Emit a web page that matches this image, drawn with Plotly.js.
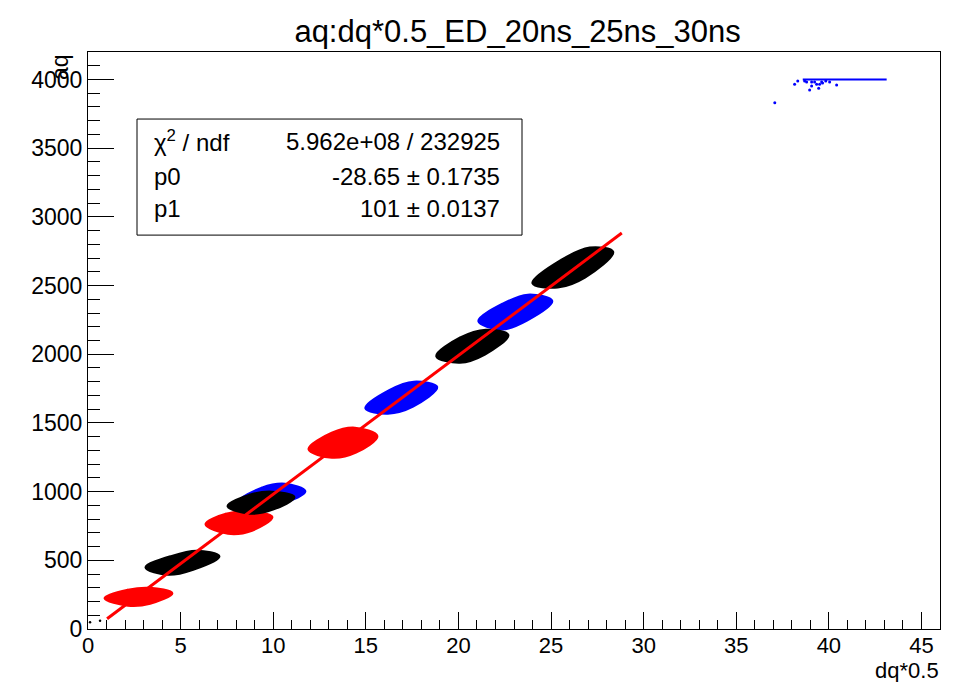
<!DOCTYPE html>
<html>
<head>
<meta charset="utf-8">
<script src="https://cdn.plot.ly/plotly-3.0.1.min.js"></script>
<style>html,body{margin:0;padding:0;background:#fff;}#chart{width:955px;height:682px;}</style>
</head>
<body>
<div id="chart"></div>
<script>
// Cluster outlines (dq*0.5, aq); one outline per cluster
const redClustersX = [[0.92, 2.16, 3.35, 4.53, 3.35, 2.16],
                      [6.37, 7.56, 8.85, 9.93, 8.74, 7.45],
                      [11.93, 13.17, 14.46, 15.60, 14.41, 13.17]];
const redClustersY = [[224, 173, 187, 260, 296, 282],
                      [763, 697, 719, 814, 850, 835],
                      [1309, 1250, 1287, 1403, 1462, 1425]];

const blueClustersX = [[8.20, 9.39, 10.63, 11.71, 10.63, 9.39],
                       [15.00, 16.19, 17.54, 18.83, 17.59, 16.30],
                       [21.10, 22.34, 23.69, 25.04, 23.75, 22.40]];
const blueClustersY = [[930, 894, 923, 1003, 1054, 1025],
                       [1607, 1571, 1622, 1760, 1797, 1738],
                       [2241, 2183, 2248, 2387, 2430, 2365]];

const blackClustersX = [[3.13, 4.32, 5.67, 7.07, 5.88, 4.53],
                        [7.56, 8.74, 9.98, 11.12, 9.93, 8.74],
                        [18.83, 20.08, 21.42, 22.67, 21.48, 20.08],
                        [24.02, 25.36, 26.82, 28.33, 27.09, 25.58]];
const blackClustersY = [[449, 398, 435, 529, 566, 529],
                        [894, 843, 872, 959, 996, 974],
                        [1986, 1942, 2001, 2139, 2175, 2117],
                        [2518, 2489, 2561, 2744, 2773, 2685]];

// saturated entries at the top right
const blueTopX = [38.59, 43.12];
const blueTopY = [4000, 4000];
const blueDotsX = [38.15, 38.32, 38.69, 38.80, 38.96, 39.07, 39.07, 39.23, 39.34, 39.45, 39.50, 39.61, 39.66, 39.83, 40.04, 40.42, 37.08];
const blueDotsY = [3966, 3988, 3988, 3981, 3923, 3952, 3981, 3981, 3966, 3937, 3966, 3981, 3974, 3988, 3981, 3959, 3830];
const blackDotsX = [0.11, 0.65];
const blackDotsY = [49, 60];

// linear fit pol1
const fitX = [1.03, 28.82];
const fitY = [75, 2882];

const statLabels = ["χ<sup>2</sup> / ndf", "p0", "p1"];
const statValues = ["5.962e+08 / 232925", "-28.65 ± 0.1735", "101 ± 0.0137"];

const xTicks = [0, 5, 10, 15, 20, 25, 30, 35, 40, 45];
const yTicks = [0, 500, 1000, 1500, 2000, 2500, 3000, 3500, 4000];

const FONT = "Liberation Sans, Arial, Helvetica, sans-serif";

// join outlines into one path per colour; wrap each outline so the spline closes smoothly
function joinOutlines(list) {
  const out = [];
  list.forEach((pts, i) => {
    if (i > 0) out.push(null);
    const n = pts.length;
    out.push(pts[n - 1]);
    pts.forEach(p => out.push(p));
    out.push(pts[0]);
    out.push(pts[1]);
  });
  return out;
}

function cluster(xs, ys, color) {
  return {x: joinOutlines(xs), y: joinOutlines(ys), type: "scatter", mode: "lines", fill: "toself",
          fillcolor: color, line: {color: color, width: 3, shape: "spline", smoothing: 1},
          hoverinfo: "skip", showlegend: false};
}

const data = [
  cluster(blueClustersX, blueClustersY, "#0000ff"),
  cluster(redClustersX, redClustersY, "#ff0000"),
  cluster(blackClustersX, blackClustersY, "#000000"),
  {x: blueTopX, y: blueTopY, type: "scatter", mode: "lines", line: {color: "#0000ff", width: 2}, showlegend: false},
  {x: blueDotsX, y: blueDotsY, type: "scatter", mode: "markers", marker: {color: "#0000ff", size: 3}, showlegend: false},
  {x: blackDotsX, y: blackDotsY, type: "scatter", mode: "markers", marker: {color: "#000000", size: 2.5}, showlegend: false},
  {x: fitX, y: fitY, type: "scatter", mode: "lines", line: {color: "#ff0000", width: 3}, showlegend: false}
];

const boxL = (137 - 88) / 852, boxR = (522 - 88) / 852;
const boxT = (628.7 - 119) / 576.7, boxB = (628.7 - 235) / 576.7;
const rowY = [141, 176, 208].map(p => (628.7 - p) / 576.7);

const annotations = [];
statLabels.forEach((t, i) => {
  annotations.push({xref: "paper", yref: "paper", x: (152 - 88) / 852, y: rowY[i], xanchor: "left", yanchor: "middle",
    text: t, showarrow: false, font: {family: FONT, size: 24, color: "#000"}});
  annotations.push({xref: "paper", yref: "paper", x: (502 - 88) / 852, y: rowY[i], xanchor: "right", yanchor: "middle",
    text: statValues[i], showarrow: false, font: {family: FONT, size: 24, color: "#000"}});
});
annotations.push({xref: "paper", yref: "paper", x: 1, y: 0, yshift: -28, xanchor: "right", yanchor: "top",
  text: "dq*0.5", showarrow: false, borderpad: 0, font: {family: FONT, size: 22, color: "#000"}});
annotations.push({xref: "paper", yref: "paper", x: 0, y: 1, xshift: -13, xanchor: "right", yanchor: "top",
  text: "aq", textangle: -90, showarrow: false, font: {family: FONT, size: 23, color: "#000"}});

const layout = {
  width: 955, height: 682,
  margin: {l: 88, r: 15, t: 52, b: 53},
  paper_bgcolor: "#fff", plot_bgcolor: "#fff",
  title: {text: "aq:dq*0.5_ED_20ns_25ns_30ns", x: 0.542, xanchor: "center", y: 0.955, yanchor: "middle",
          font: {family: FONT, size: 31, color: "#000"}},
  xaxis: {range: [0, 46], tickvals: xTicks, ticktext: xTicks.map(String), ticks: "inside", ticklen: 17, tickwidth: 1, tickcolor: "#000",
          ticklabelstandoff: -3,
          minor: {dtick: 1, ticks: "inside", ticklen: 9, tickcolor: "#000", tickwidth: 1, showgrid: false},
          showline: true, mirror: true, linecolor: "#000", linewidth: 1, showgrid: false, zeroline: false,
          tickfont: {family: FONT, size: 22, color: "#000"}},
  yaxis: {range: [0, 4200], tickvals: yTicks, ticktext: yTicks.map(String), ticks: "inside", ticklen: 26, tickwidth: 1, tickcolor: "#000",
          minor: {dtick: 100, ticks: "inside", ticklen: 12, tickcolor: "#000", tickwidth: 1, showgrid: false},
          showline: true, mirror: true, linecolor: "#000", linewidth: 1, showgrid: false, zeroline: false,
          tickfont: {family: FONT, size: 23, color: "#000"}},
  shapes: [{type: "rect", xref: "paper", yref: "paper", x0: boxL, x1: boxR, y0: boxB, y1: boxT,
            fillcolor: "#fff", line: {color: "#000", width: 1}, layer: "above"}],
  annotations: annotations,
  showlegend: false
};

Plotly.newPlot("chart", data, layout, {displayModeBar: false, staticPlot: true});
</script>
</body>
</html>
